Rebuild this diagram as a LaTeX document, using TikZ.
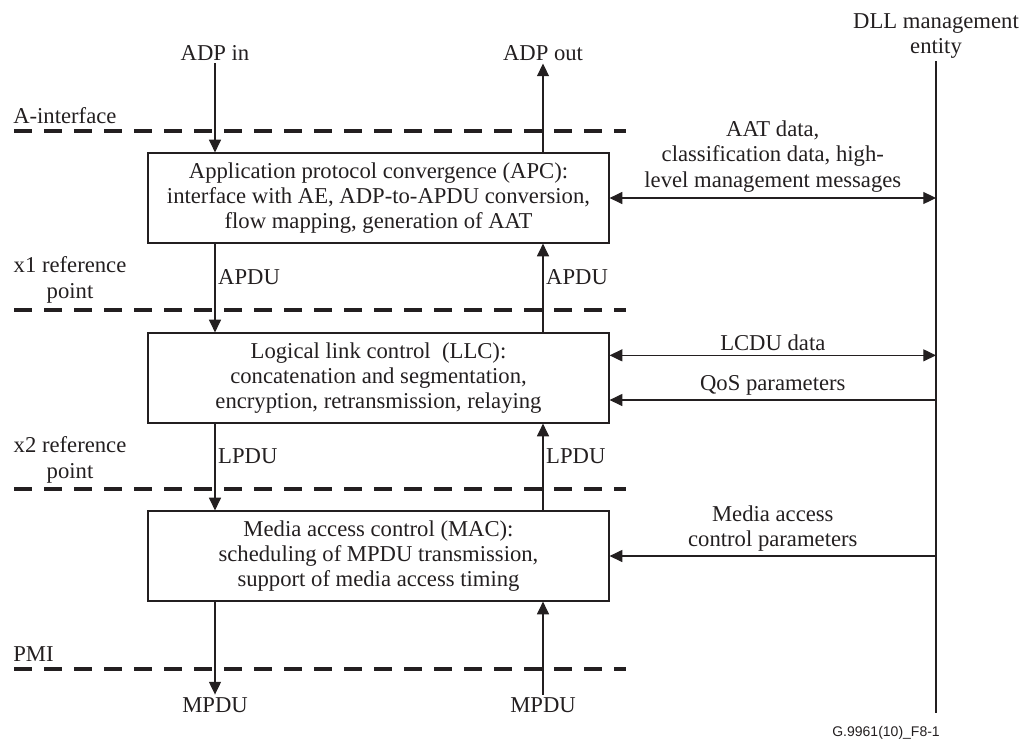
\documentclass[tikz,border=0pt]{standalone}
\usepackage{fontspec}
\setmainfont{Liberation Serif}
\newfontfamily\figidfont{Liberation Sans}
\usepackage{xcolor}
\usepackage{tikz}
\usetikzlibrary{arrows.meta, positioning}
\definecolor{inkdark}{HTML}{231f20}
\tikzstyle{layerbox} = [rectangle, draw=inkdark, line width=0.9pt, minimum width=345.75pt,
  minimum height=67.5pt, align=center, text=inkdark, inner sep=0pt]
\tikzstyle{lbl} = [text=inkdark, align=center, inner sep=2pt]
\tikzstyle{arrow} = [draw=inkdark, line width=0.8pt, -{Triangle[length=9.5pt, width=9pt]}]
\tikzstyle{biarrow} = [draw=inkdark, line width=0.8pt,
  {Triangle[length=9.5pt, width=9pt]}-{Triangle[length=9.5pt, width=9pt]}]
\tikzstyle{refline} = [draw=inkdark, line width=3pt, dash pattern=on 13.5pt off 9pt]
\tikzstyle{mgmtline} = [draw=inkdark, line width=1.6pt]

\begin{document}
\begin{tikzpicture}[x=0.75pt, y=-0.75pt, font=\fontsize{17}{19}\selectfont]
  \useasboundingbox (0,0) rectangle (1034,744);

  % Layer boxes
  \node (apc) [layerbox] at (378.5,198)
    {Application protocol convergence (APC):\\interface with AE, ADP-to-APDU conversion,\\flow mapping, generation of AAT};
  \node (llc) [layerbox] at (378.5,378)
    {Logical link control~ (LLC):\\concatenation and segmentation,\\encryption, retransmission, relaying};
  \node (mac) [layerbox] at (378.5,556)
    {Media access control (MAC):\\scheduling of MPDU transmission,\\support of media access timing};

  % Top and bottom end labels
  \node (adpin)  [lbl] at (215,53) {ADP in};
  \node (adpout) [lbl] at (543,53) {ADP out};
  \node (mpdudn) [lbl] at (215,705) {MPDU};
  \node (mpduup) [lbl] at (543,705) {MPDU};

  % Management entity
  \node (dll) [lbl] at (936,36) {DLL management\\entity};
  \coordinate (dllend) at (936,713);
  \draw[mgmtline] (dll) -- (dllend);

  % Reference lines
  \draw[refline] (14,131) -- (626,131);
  \draw[refline] (14,310) -- (626,310);
  \draw[refline] (14,489) -- (626,489);
  \draw[refline] (14,669) -- (626,669);
  \node (aif) [lbl, anchor=south west, inner sep=0pt] at (13,124) {A-interface};
  \node (xone) [lbl] at (70,280) {x1 reference\\point};
  \node (xtwo) [lbl] at (70,460) {x2 reference\\point};
  \node (pmi) [lbl, anchor=south west, inner sep=0pt] at (13,662) {PMI};

  % Data flow down and up
  \draw[arrow] (adpin) -- (adpin |- apc.north);
  \draw[arrow] (apc.north -| adpout) -- (adpout);
  \draw[arrow] (apc.south -| adpin) -- node[lbl, right, pos=0.38] {APDU} (llc.north -| adpin);
  \draw[arrow] (llc.north -| adpout) -- node[lbl, right, pos=0.62] {APDU} (apc.south -| adpout);
  \draw[arrow] (llc.south -| adpin) -- node[lbl, right, pos=0.38] {LPDU} (mac.north -| adpin);
  \draw[arrow] (mac.north -| adpout) -- node[lbl, right, pos=0.62] {LPDU} (llc.south -| adpout);
  \draw[arrow] (mac.south -| adpin) -- (mpdudn);
  \draw[arrow] (mpduup) -- (mac.south -| adpout);

  % Management exchanges
  \coordinate (lcdu) at ([yshift=17pt]llc.east);
  \coordinate (qos) at ([yshift=-16.5pt]llc.east);
  \draw[biarrow] (apc.east) -- node[lbl, above=2pt]
    {AAT data,\\classification data, high-\\level management messages} (apc.east -| dll);
  \draw[biarrow] (lcdu) -- node[lbl, above=1pt] {LCDU data} (lcdu -| dll);
  \draw[arrow] (qos -| dll) -- node[lbl, above=1pt] {QoS parameters} (qos);
  \draw[arrow] (mac.east -| dll) -- node[lbl, above=1pt] {Media access\\control parameters} (mac.east);

  \node (figid) [anchor=east, inner sep=0pt, text=inkdark, font=\figidfont\fontsize{10.5}{12}\selectfont]
    at (940,733) {G.9961(10)\_F8-1};
\end{tikzpicture}
\end{document}
